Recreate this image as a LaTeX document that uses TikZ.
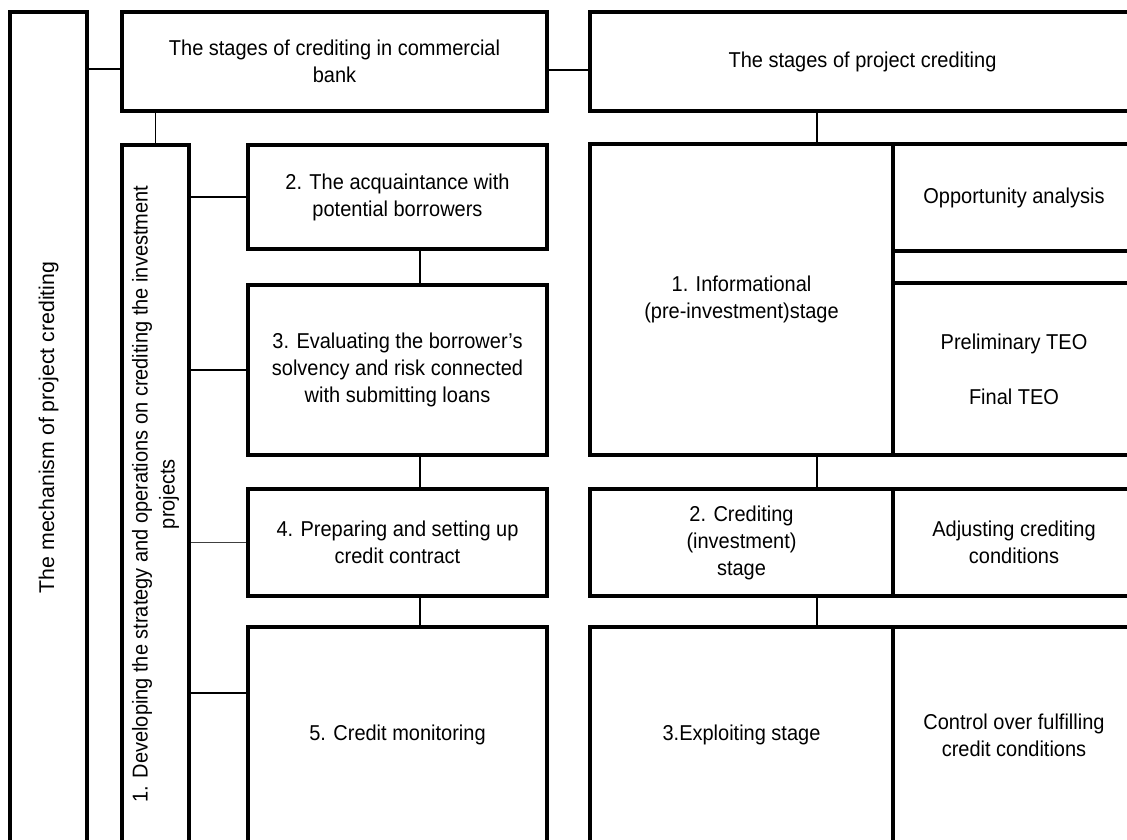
\documentclass[tikz,border=0pt]{standalone}
\usepackage{fontspec}
\setmainfont{Liberation Sans}
\newfontfamily\narrowsans[FakeStretch=0.93]{Liberation Sans}
\begin{document}
\begin{tikzpicture}[x=1pt,y=-1pt,
  box/.style={draw, line width=3.6pt, inner sep=0pt, align=center,
    font=\narrowsans\fontsize{21.5}{27}\selectfont},
  link/.style={line width=1.8pt},
  thinlink/.style={line width=1pt, black!75}]
\useasboundingbox (0,0) rectangle (1127,840);
\fill[white] (0,0) rectangle (1127,840);
\clip (0,0) rectangle (1127,840);
% left column
\node[box, rotate=90, minimum width=831, minimum height=77, font=\fontsize{21.3}{27}\selectfont] (outer) at (48.5,427.5) {The mechanism of project crediting};
\node[box, minimum width=425, minimum height=99] (tl) at (334.5,61.5) {The stages of crediting in commercial\\bank};
\node[box, minimum width=545, minimum height=99] (tr) at (862.5,61.5) {The stages of project crediting};
\node[box, rotate=90, minimum width=698, minimum height=67] (b1) at (155.5,494) {1. Developing the strategy and operations on crediting the investment\\projects};
\node[box, minimum width=299, minimum height=104] (b2) at (397.5,197) {2. The acquaintance with\\potential borrowers};
\node[box, minimum width=299, minimum height=170] (b3) at (397.5,370) {3. Evaluating the borrower’s\\solvency and risk connected\\with submitting loans};
\node[box, minimum width=299, minimum height=107] (b4) at (397.5,542.5) {4. Preparing and setting up\\credit contract};
\node[box, minimum width=299, minimum height=216] (b5) at (397.5,735) {5. Credit monitoring};
% right column
\node[box, minimum width=303, minimum height=311] (info) at (741.5,299.5) {1. Informational\\(pre-investment)stage};
\node[box, minimum width=242, minimum height=107] (opp) at (1014,197.5) {Opportunity analysis};
\node[box, minimum width=242, minimum height=172] (prel) at (1014,369) {Preliminary TEO\\[28pt]Final TEO};
\node[box, minimum width=303, minimum height=107] (cred) at (741.5,542.5) {2. Crediting\\(investment)\\stage};
\node[box, minimum width=242, minimum height=107] (adj) at (1014,542.5) {Adjusting crediting\\conditions};
\node[box, minimum width=303, minimum height=216] (expl) at (741.5,735) {3.Exploiting stage};
\node[box, minimum width=242, minimum height=216] (ctrl) at (1014,735) {Control over fulfilling\\credit conditions};
% connectors
\draw[link] (outer.south |- 0,69) -- (tl.west |- 0,69);
\draw[link] (tl.east |- 0,70) -- (tr.west |- 0,70);
\draw[link] (tl.south -| b1.east) -- (b1.east);
\draw[link] (b2.west -| b1.south) -- (b2.west);
\draw[link] (b3.west -| b1.south) -- (b3.west);
\draw[thinlink] (b4.west -| b1.south) -- (b4.west);
\draw[link] (b1.south |- 0,693) -- (b5.west |- 0,693);
\draw[link] (b2.south -| 420,0) -- (b3.north -| 420,0);
\draw[link] (b3.south -| 420,0) -- (b4.north -| 420,0);
\draw[link] (b4.south -| 420,0) -- (b5.north -| 420,0);
\draw[link] (tr.south -| 817,0) -- (info.north -| 817,0);
\draw[link] (info.south -| 817,0) -- (cred.north -| 817,0);
\draw[link] (cred.south -| 817,0) -- (expl.north -| 817,0);
\end{tikzpicture}
\end{document}
